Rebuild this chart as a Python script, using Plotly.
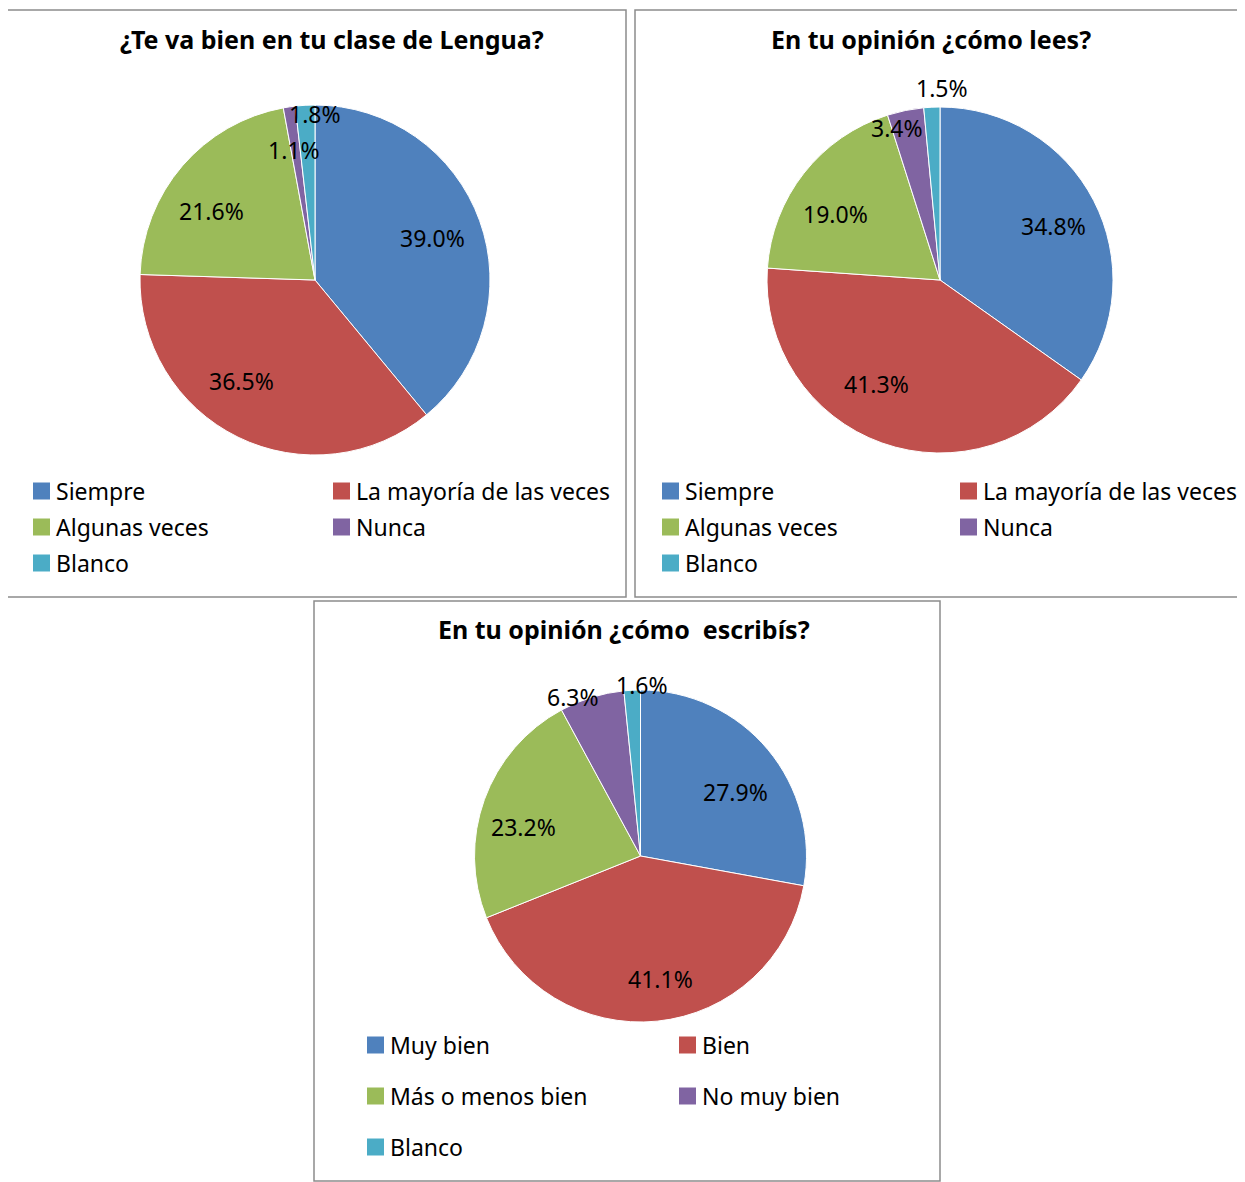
import math
import plotly.graph_objects as go

# page body has an 8px default margin; figure is sized/positioned to compensate
OFF = 8
W, H = 1245 - OFF, 1182 - OFF

colors = ["#4F81BD", "#C0504D", "#9BBB59", "#8064A2", "#4BACC6"]

titles = ["¿Te va bien en tu clase de Lengua?",
          "En tu opinión ¿cómo lees?",
          "En tu opinión ¿cómo  escribís?"]

labels_1 = ["Siempre", "La mayoría de las veces", "Algunas veces", "Nunca", "Blanco"]
values_1 = [39.0, 36.5, 21.6, 1.1, 1.8]

labels_2 = ["Siempre", "La mayoría de las veces", "Algunas veces", "Nunca", "Blanco"]
values_2 = [34.8, 41.3, 19.0, 3.4, 1.5]

labels_3 = ["Muy bien", "Bien", "Más o menos bien", "No muy bien", "Blanco"]
values_3 = [27.9, 41.1, 23.2, 6.3, 1.6]

FONT = "Noto Sans"


def px_x(v):
    return (v - OFF) / W


def px_y(v):
    return 1 - (v - OFF) / H


fig = go.Figure()

# label placement style: radial factor and angular nudge (deg) per slice
specs = [
    dict(labs=labels_1, vals=values_1, dx=(140, 490), dy=(105, 455),
         k=[0.712, 0.712, 0.709, 0.75, 0.95], dth=[0, 9.8, -6.9, -0.7, 3.1],
         lorig=(33, 491), lcol=300, lrow=36),
    dict(labs=labels_2, vals=values_2, dx=(767, 1113), dy=(107, 453),
         k=[0.724, 0.703, 0.712, 0.913, 1.11], dth=[1.9, 11.6, -5.8, -4.3, 3.3],
         lorig=(662, 491), lcol=298, lrow=36),
    dict(labs=labels_3, vals=values_3, dx=(474, 807), dy=(690, 1022),
         k=[0.69, 0.748, 0.723, 1.035, 1.027], dth=[6.0, -3.4, -5.8, -6.0, 3.4],
         lorig=(367, 1045), lcol=312, lrow=51),
]

LABEL_SIZE = 23
LEGEND_SIZE = 23
SQ = 17

for s in specs:
    labs, vals, dx, dy = s["labs"], s["vals"], s["dx"], s["dy"]
    fig.add_trace(go.Pie(
        labels=labs, values=vals, sort=False, direction="clockwise", rotation=0,
        marker=dict(colors=colors, line=dict(color="white", width=1)),
        textinfo="none",
        domain=dict(x=[px_x(dx[0]), px_x(dx[1])], y=[px_y(dy[1]), px_y(dy[0])]),
        hoverinfo="label+value", showlegend=False,
    ))
    # percentage labels placed along each slice's mid-angle
    cx, cy = (dx[0] + dx[1]) / 2, (dy[0] + dy[1]) / 2
    r = (dx[1] - dx[0]) / 2
    total = sum(vals)
    cum = 0.0
    for v, k, d in zip(vals, s["k"], s["dth"]):
        th = 2 * math.pi * (cum + v / 2) / total + math.radians(d)
        cum += v
        lx = cx + k * r * math.sin(th)
        ly = cy - k * r * math.cos(th)
        fig.add_annotation(text=f"{v:.1f}%", xref="paper", yref="paper",
                           x=px_x(lx), y=px_y(ly), xanchor="center", yanchor="middle",
                           showarrow=False,
                           font=dict(family=FONT, size=LABEL_SIZE, color="black"))
    # legend: 2 columns, row-major
    lorig, lcol, lrow = s["lorig"], s["lcol"], s["lrow"]
    for i, (lab, col) in enumerate(zip(labs, colors)):
        row, c = divmod(i, 2)
        x0 = lorig[0] + c * lcol
        yc = lorig[1] + row * lrow
        fig.add_shape(type="rect", xref="paper", yref="paper",
                      x0=px_x(x0), x1=px_x(x0 + SQ),
                      y0=px_y(yc + SQ / 2), y1=px_y(yc - SQ / 2),
                      line=dict(width=0), fillcolor=col)
        fig.add_annotation(text=lab, xref="paper", yref="paper",
                           x=px_x(x0 + SQ + 4), y=px_y(yc), xanchor="left",
                           yanchor="middle", showarrow=False,
                           font=dict(family=FONT, size=LEGEND_SIZE, color="black"))

# boxes
boxes = [(7, 10, 626, 597), (635, 10, 1244, 597), (314, 601, 940, 1181)]
for x0, y0, x1, y1 in boxes:
    fig.add_shape(type="rect", xref="paper", yref="paper",
                  x0=px_x(x0), x1=px_x(x1), y0=px_y(y1), y1=px_y(y0),
                  line=dict(color="#8c8c8c", width=1.5), fillcolor="rgba(0,0,0,0)")

# titles
title_pos = [(332, 39), (931, 39), (624, 629)]
for t, (x, y) in zip(titles, title_pos):
    fig.add_annotation(text="<b>" + t + "</b>", xref="paper", yref="paper",
                       x=px_x(x), y=px_y(y), xanchor="center", yanchor="middle",
                       showarrow=False, font=dict(family=FONT, size=25, color="black"))

fig.update_layout(
    width=W, height=H,
    margin=dict(l=0, r=0, t=0, b=0),
    paper_bgcolor="white", plot_bgcolor="white",
    showlegend=False,
)

fig.write_html("out.html")
